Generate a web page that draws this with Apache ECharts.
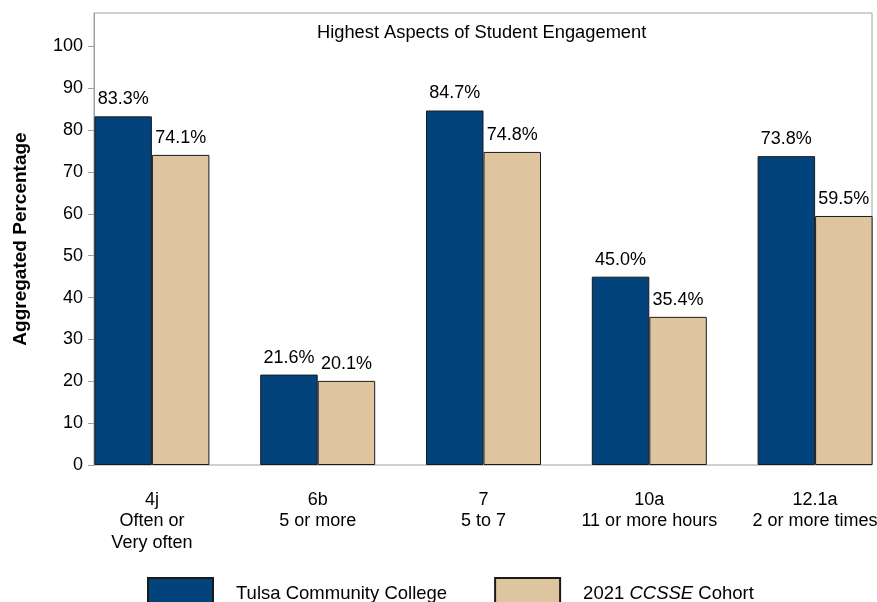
<!DOCTYPE html>
<html><head><meta charset="utf-8">
<script src="https://cdn.jsdelivr.net/npm/echarts@6/dist/echarts.min.js"></script>
<style>html,body{margin:0;padding:0;background:#fff}#c{width:877px;height:602px}</style>
</head><body><div id="c"></div>
<script>
const itemCodes = ['4j', '6b', '7', '10a', '12.1a'];
const itemDescriptions = ['Often or\nVery often', '5 or more', '5 to 7', '11 or more hours', '2 or more times'];
const collegeValues = [83.3, 21.6, 84.7, 45.0, 73.8];
const cohortValues = [74.1, 20.1, 74.8, 35.4, 59.5];
const yTickValues = [0, 10, 20, 30, 40, 50, 60, 70, 80, 90, 100];
const seriesNames = ['Tulsa Community College', '2021 CCSSE Cohort'];
const chartTitle = 'Highest Aspects of Student Engagement';
const yAxisTitle = 'Aggregated Percentage';

const categories = itemCodes.map((c, i) => c + '\n' + itemDescriptions[i]);
const FONT = "'Liberation Sans', Arial, sans-serif";
const BLUE = '#03437b', TAN = '#dec5a0';

const chart = echarts.init(document.getElementById('c'), null, {renderer: 'canvas'});
const labelCfg = {
  show: true, position: 'top', distance: 8,
  fontFamily: FONT, fontSize: 18, color: '#000',
  formatter: p => p.value.toFixed(1) + '%'
};
chart.setOption({
  animation: false,
  backgroundColor: '#fff',
  textStyle: {fontFamily: FONT},
  title: {
    text: chartTitle, left: 312, top: 19,
    textStyle: {fontFamily: FONT, fontSize: 18.3, fontWeight: 'normal', color: '#000'}
  },
  legend: {
    left: 142, top: 572, itemWidth: 65, itemHeight: 32, itemGap: 47, icon: 'rect',
    data: seriesNames,
    textStyle: {fontFamily: FONT, fontSize: 18.5, color: '#000',
      rich: {sp: {width: 18}, it: {fontFamily: FONT, fontSize: 18.5, fontStyle: 'italic', color: '#000'}}},
    formatter: name => name === seriesNames[1] ? '{sp|}2021 {it|CCSSE} Cohort' : '{sp|}' + name
  },
  grid: [
    {left: 69, top: 13, width: 829, height: 452, outerBoundsMode: 'none', containLabel: false},
    {left: 94, top: 13, width: 778, height: 452, outerBoundsMode: 'none', containLabel: false,
     show: true, borderColor: '#a0a0a0', borderWidth: 1}
  ],
  xAxis: [
    {type: 'category', gridIndex: 0, data: categories,
     axisLine: {show: false}, axisTick: {show: false},
     axisLabel: {fontFamily: FONT, fontSize: 18, lineHeight: 21.5, color: '#000', margin: 24, interval: 0}},
    {type: 'value', gridIndex: 1, show: false, min: 0, max: 1}
  ],
  yAxis: [
    {type: 'value', gridIndex: 0, min: 0, max: 108, show: false, splitLine: {show: false}},
    {type: 'value', gridIndex: 1, min: 0, max: 108, interval: 10,
     name: yAxisTitle, nameLocation: 'middle', nameGap: 64, nameRotate: 90,
     nameTextStyle: {fontFamily: FONT, fontSize: 19, fontWeight: 'bold', color: '#000'},
     axisLine: {show: true, lineStyle: {color: '#a0a0a0', width: 1}},
     axisTick: {show: true, length: 6, lineStyle: {color: '#a0a0a0'}, customValues: yTickValues},
     axisLabel: {fontFamily: FONT, fontSize: 18, color: '#000', margin: 11, customValues: yTickValues},
     splitLine: {show: false}}
  ],
  series: [
    {name: seriesNames[0], type: 'bar', xAxisIndex: 0, yAxisIndex: 0, data: collegeValues,
     barWidth: 57.5, barGap: '0%',
     itemStyle: {color: BLUE, borderColor: '#1a1a1a', borderWidth: 1}, label: labelCfg},
    {name: seriesNames[1], type: 'bar', xAxisIndex: 0, yAxisIndex: 0, data: cohortValues,
     barWidth: 57.5, barGap: '0%',
     itemStyle: {color: TAN, borderColor: '#1a1a1a', borderWidth: 1}, label: labelCfg}
  ]
});
</script></body></html>
